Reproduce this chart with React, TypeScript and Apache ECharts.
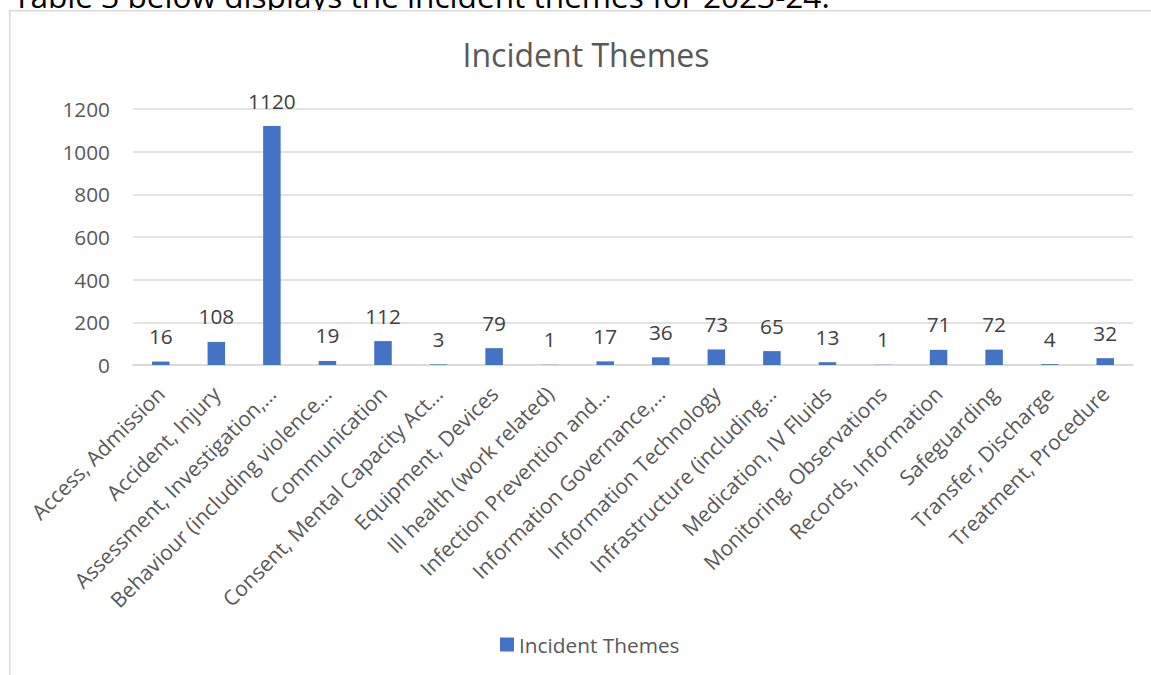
import React, { useEffect, useRef } from "react";
import * as echarts from "echarts";

// Incident themes, counts per theme
const categories: string[] = [
  "Access, Admission",
  "Accident, Injury",
  "Assessment, Investigation,…",
  "Behaviour (including violence…",
  "Communication",
  "Consent, Mental Capacity Act…",
  "Equipment, Devices",
  "Ill health (work related)",
  "Infection Prevention and…",
  "Information Governance,…",
  "Information Technology",
  "Infrastructure (including…",
  "Medication, IV Fluids",
  "Monitoring, Observations",
  "Records, Information",
  "Safeguarding",
  "Transfer, Discharge",
  "Treatment, Procedure",
];

const incidentCounts: number[] = [
  16, 108, 1120, 19, 112, 3, 79, 1, 17, 36, 73, 65, 13, 1, 71, 72, 4, 32,
];

const yTicks = { min: 0, max: 1200, step: 200 };

const seriesName = "Incident Themes";
const chartTitle = "Incident Themes";
const introText = "Table 3 below displays the incident themes for 2023-24.";

const FONT = "'Open Sans', 'Noto Sans', sans-serif";
const AXIS_GREY = "#595959";
const LABEL_GREY = "#404040";
const GRID_GREY = "#d9d9d9";
const BAR_BLUE = "#4472C4";
const TEXT_SIZE = 20.8;

export default function App() {
  const ref = useRef<HTMLDivElement>(null);

  useEffect(() => {
    if (!ref.current) return;
    const chart = echarts.init(ref.current, undefined, { renderer: "svg" });

    chart.setOption({
      animation: false,
      backgroundColor: "#ffffff",
      textStyle: { fontFamily: FONT },
      title: {
        text: chartTitle,
        left: 586,
        textAlign: "center",
        top: 38,
        padding: 0,
        textStyle: {
          fontFamily: FONT,
          fontSize: 32,
          fontWeight: "normal",
          color: AXIS_GREY,
        },
      },
      graphic: [
        // sentence above the chart box; its lower part is hidden by the box
        {
          type: "text",
          x: 13,
          y: -4.8,
          z: -2,
          style: {
            text: introText,
            fontFamily: FONT,
            fontSize: 31.6,
            fill: "#000000",
            verticalAlign: "middle",
          },
          silent: true,
        },
        // chart box
        {
          type: "rect",
          z: -1,
          shape: { x: 9.75, y: 10.75, width: 1200, height: 700 },
          style: { fill: "#ffffff", stroke: GRID_GREY, lineWidth: 1.5 },
          silent: true,
        },
      ],
      legend: {
        data: [seriesName],
        left: 500,
        top: 634,
        padding: 0,
        itemWidth: 14,
        itemHeight: 14,
        icon: "rect",
        textStyle: { fontFamily: FONT, fontSize: TEXT_SIZE, color: AXIS_GREY },
      },
      grid: { left: 133, right: 18, top: 109, bottom: 310, containLabel: false },
      xAxis: {
        type: "category",
        data: categories,
        axisLine: { show: true, lineStyle: { color: GRID_GREY, width: 1.5 } },
        axisTick: { show: false },
        axisLabel: {
          interval: 0,
          rotate: 45,
          margin: 25,
          fontFamily: FONT,
          fontSize: 21,
          color: AXIS_GREY,
        },
      },
      yAxis: {
        type: "value",
        min: yTicks.min,
        max: yTicks.max,
        interval: yTicks.step,
        axisLine: { show: false },
        axisTick: { show: false },
        axisLabel: {
          margin: 23,
          fontFamily: FONT,
          fontSize: TEXT_SIZE,
          color: AXIS_GREY,
          formatter: (v: number) => String(v),
        },
        splitLine: { lineStyle: { color: GRID_GREY, width: 1.5 } },
      },
      series: [
        {
          name: seriesName,
          type: "bar",
          data: incidentCounts,
          barWidth: 17.5,
          itemStyle: { color: BAR_BLUE },
          label: {
            show: true,
            position: "top",
            distance: 15,
            fontFamily: FONT,
            fontSize: TEXT_SIZE,
            color: LABEL_GREY,
          },
        },
      ],
    });

    return () => chart.dispose();
  }, []);

  return (
    <div
      ref={ref}
      style={{ position: "fixed", left: 0, top: 0, width: 1151, height: 675 }}
    />
  );
}
